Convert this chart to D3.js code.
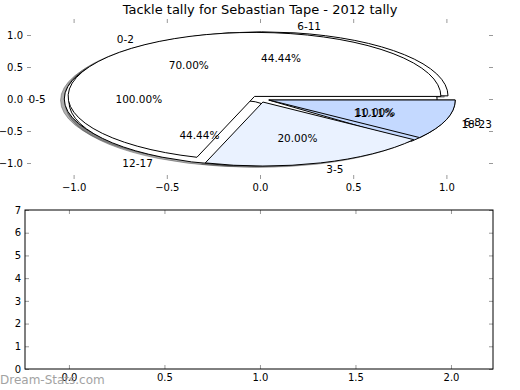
<!doctype html>
<html>
<head>
<meta charset="utf-8">
<script src="https://cdnjs.cloudflare.com/ajax/libs/d3/7.8.5/d3.min.js"></script>
<style>
  body { margin: 0; background: #fff; }
  svg text { font-family: "DejaVu Sans", sans-serif; fill: #000; }
  .tick line { stroke: #999; }
  .wedge { stroke: #000; stroke-width: 1; stroke-linejoin: miter; }
  .shadow { fill: rgba(77,77,77,0.45); stroke: rgba(77,77,77,0.45); stroke-width: 1; }
</style>
</head>
<body>
<svg id="chart" width="520" height="390"></svg>
<script>
var title = "Tackle tally for Sebastian Tape - 2012 tally";

// three pies, drawn one over the other in this order
var wholeDayLabels = ["0-5"];
var wholeDayValues = [1];
var sixHourLabels = ["6-11", "12-17", "18-23"];
var sixHourValues = [4, 4, 1];
var threeHourLabels = ["0-2", "3-5", "6-8"];
var threeHourValues = [7, 2, 1];

var pieTicks = [-1, -0.5, 0, 0.5, 1];
var barXTicks = [0, 0.5, 1, 1.5, 2];
var barYTicks = [0, 1, 2, 3, 4, 5, 6, 7];

var pies = [
  { labels: wholeDayLabels, values: wholeDayValues, colors: ["#ffffff"] },
  { labels: sixHourLabels, values: sixHourValues, colors: ["#ffffff", "#ffffff", "#c4d9ff"] },
  { labels: threeHourLabels, values: threeHourValues, colors: ["#ffffff", "#eaf2ff", "#c4d9ff"] }
];

var explode = 0.05, labelDist = 1.1, pctDist = 0.6;
var fontSize = 10;

var svg = d3.select("#chart");

// top (pie) axes, no frame
var x = d3.scaleLinear().domain([-1.25, 1.25]).range([27, 493]);
var y = d3.scaleLinear().domain([-1.25, 1.25]).range([179, 19]);

// bottom (empty) axes
var bx = d3.scaleLinear().domain([-0.23, 2.22]).range([25, 493]);
var by = d3.scaleLinear().domain([0, 7]).range([369, 210]);

svg.append("text")
    .attr("x", 260).attr("y", 14)
    .attr("text-anchor", "middle")
    .attr("font-size", 13)
    .text(title);

// matplotlib style: ticks pointing inward on all four sides
function drawAxes(g, xs, ys, xticks, yticks, xfmt, yfmt, framed) {
  var x0 = xs.range()[0], x1 = xs.range()[1], y0 = ys.range()[0], y1 = ys.range()[1];
  var ax = [
    g.append("g").attr("transform", "translate(0," + y0 + ")")
      .call(d3.axisBottom(xs).tickValues(xticks).tickFormat(xfmt).tickSize(-4).tickPadding(5)),
    g.append("g").attr("transform", "translate(0," + y1 + ")")
      .call(d3.axisTop(xs).tickValues(xticks).tickFormat("").tickSize(-4)),
    g.append("g").attr("transform", "translate(" + x0 + ",0)")
      .call(d3.axisLeft(ys).tickValues(yticks).tickFormat(yfmt).tickSize(-4).tickPadding(4)),
    g.append("g").attr("transform", "translate(" + x1 + ",0)")
      .call(d3.axisRight(ys).tickValues(yticks).tickFormat("").tickSize(-4))
  ];
  ax.forEach(function(a) {
    a.attr("font-size", fontSize).attr("font-family", null);
    a.select(".domain").remove();
  });
  if (framed) {
    g.append("rect")
      .attr("x", x0).attr("y", y1)
      .attr("width", x1 - x0).attr("height", y0 - y1)
      .attr("fill", "none").attr("stroke", "#000").attr("stroke-width", 1);
  }
}

var topG = svg.append("g");
drawAxes(topG, x, y, pieTicks, pieTicks, d3.format(".1f"), d3.format(".1f"), false);

var botG = svg.append("g");
drawAxes(botG, bx, by, barXTicks, barYTicks, d3.format(".1f"), d3.format("d"), true);

// elliptical wedge (axes are not equal aspect), angles counter-clockwise from east
function wedgePath(cx, cy, t0, t1) {
  var rx = x(1) - x(0), ry = y(0) - y(1);
  var px = function(t) { return x(cx + Math.cos(t)); };
  var py = function(t) { return y(cy + Math.sin(t)); };
  if (t1 - t0 >= 2 * Math.PI - 1e-9) {
    return "M" + px(0) + "," + py(0) +
      "A" + rx + "," + ry + " 0 1 0 " + px(Math.PI) + "," + py(Math.PI) +
      "A" + rx + "," + ry + " 0 1 0 " + px(0) + "," + py(0) + "Z";
  }
  var large = (t1 - t0) > Math.PI ? 1 : 0;
  return "M" + x(cx) + "," + y(cy) + "L" + px(t0) + "," + py(t0) +
    "A" + rx + "," + ry + " 0 " + large + " 0 " + px(t1) + "," + py(t1) + "Z";
}

var pieLayout = d3.pie().sort(null);
var wedges = [];
pies.forEach(function(p, pi) {
  pieLayout(p.values).forEach(function(d, i) {
    var mid = (d.startAngle + d.endAngle) / 2;
    wedges.push({
      pie: pi,
      label: p.labels[i],
      color: p.colors[i],
      pct: (d.endAngle - d.startAngle) / (2 * Math.PI) * 100,
      t0: d.startAngle, t1: d.endAngle, mid: mid,
      cx: explode * Math.cos(mid), cy: explode * Math.sin(mid)
    });
  });
});

var sdx = x(-0.02) - x(0), sdy = y(-0.02) - y(0);

// shadows sit below every wedge
topG.append("g").selectAll("path")
  .data(wedges)
  .enter().append("path")
    .attr("class", "shadow")
    .attr("transform", "translate(" + sdx + "," + sdy + ")")
    .attr("d", d => wedgePath(d.cx, d.cy, d.t0, d.t1));

topG.append("g").selectAll("path")
  .data(wedges)
  .enter().append("path")
    .attr("class", "wedge")
    .attr("fill", d => d.color)
    .attr("d", d => wedgePath(d.cx, d.cy, d.t0, d.t1));

var labelG = topG.append("g").attr("font-size", 10.5);

labelG.selectAll("text.lab")
  .data(wedges)
  .enter().append("text")
    .attr("class", "lab")
    .attr("x", d => x(d.cx + labelDist * Math.cos(d.mid)))
    .attr("y", d => y(d.cy + labelDist * Math.sin(d.mid)))
    .attr("dy", "0.36em")
    .attr("text-anchor", d => (d.cx + labelDist * Math.cos(d.mid)) > 0 ? "start" : "end")
    .text(d => d.label);

labelG.selectAll("text.pct")
  .data(wedges)
  .enter().append("text")
    .attr("class", "pct")
    .attr("x", d => x(d.cx + pctDist * Math.cos(d.mid)))
    .attr("y", d => y(d.cy + pctDist * Math.sin(d.mid)))
    .attr("dy", "0.36em")
    .attr("text-anchor", "middle")
    .text(d => d.pct.toFixed(2) + "%");

svg.append("text")
    .attr("x", 0).attr("y", 384)
    .attr("font-size", 12)
    .style("fill", "#999")
    .style("opacity", 0.9)
    .text("Dream-Stats.com");
</script>
</body>
</html>
